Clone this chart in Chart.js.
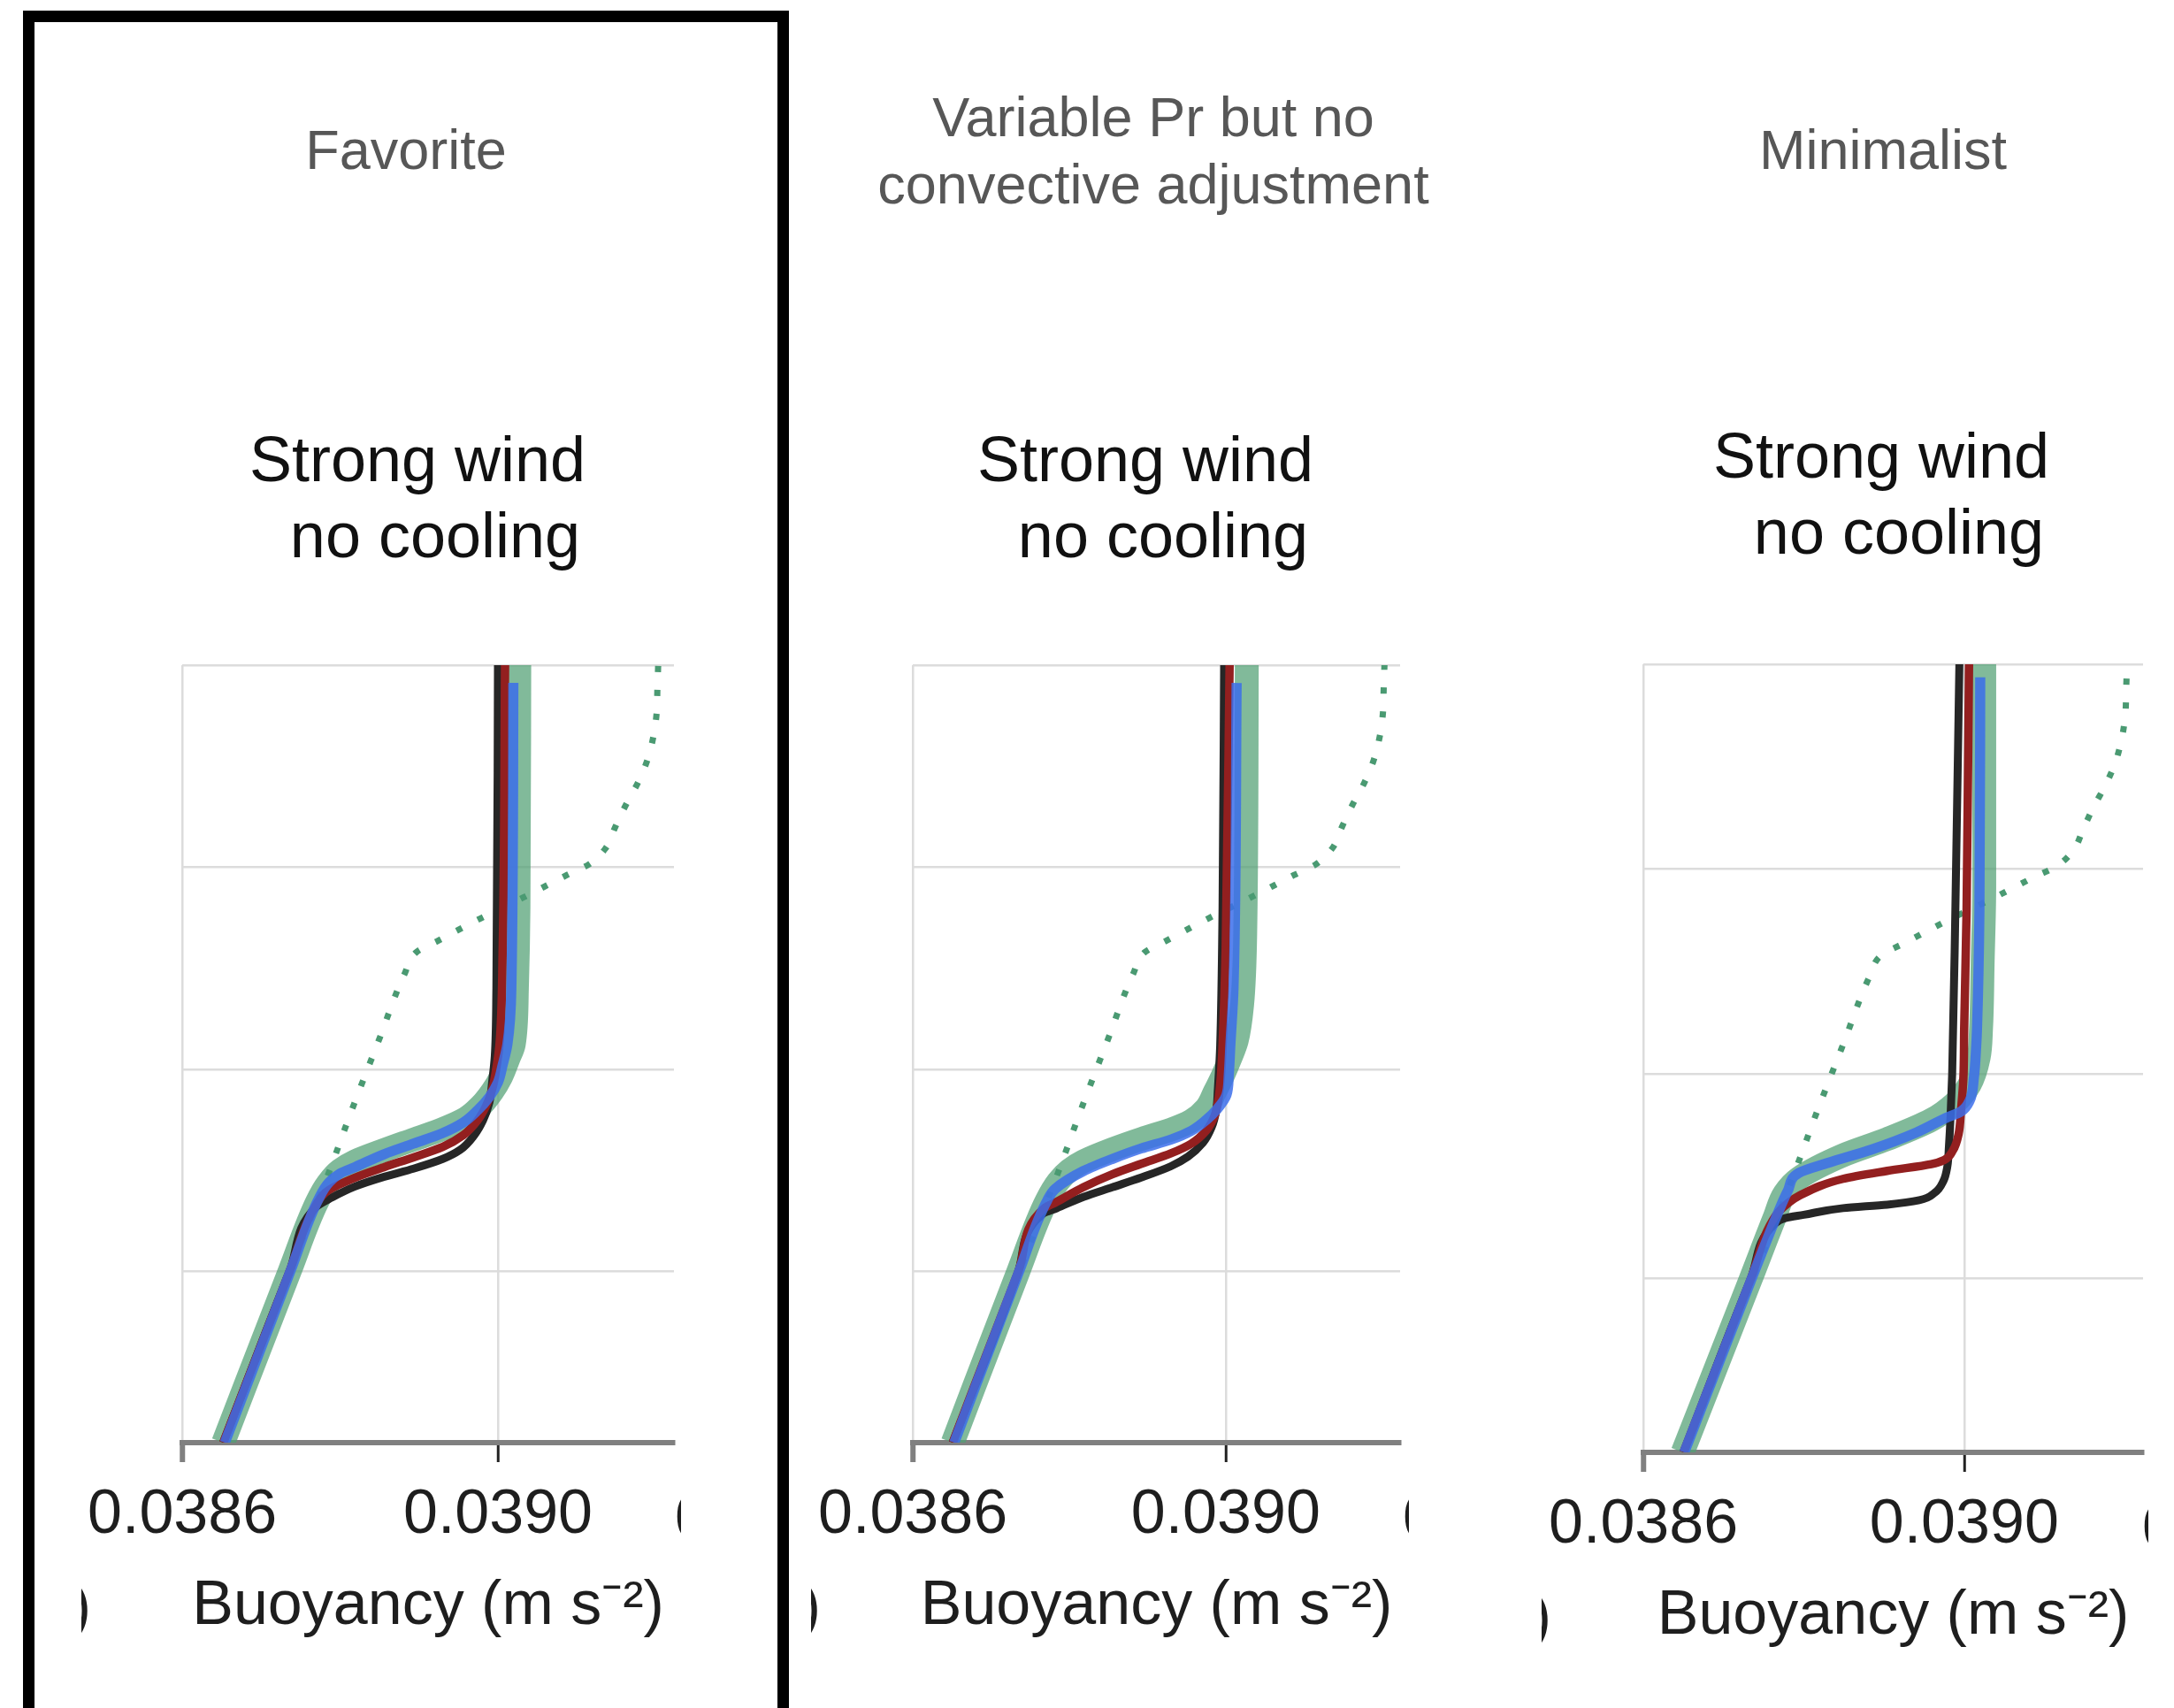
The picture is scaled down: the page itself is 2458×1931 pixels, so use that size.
<!DOCTYPE html>
<html>
<head>
<meta charset="utf-8">
<script src="https://cdn.jsdelivr.net/npm/chart.js@4.4.1/dist/chart.umd.min.js"></script>
<style>
  html, body { margin: 0; padding: 0; background: #fff; }
  body { width: 2458px; height: 1931px; position: relative; overflow: hidden; font-family: "Liberation Sans", Arial, sans-serif; }
  .frame { position: absolute; left: 26px; top: 12px; width: 866px; height: 2000px; border: 13px solid #000; box-sizing: border-box; }
  .head { position: absolute; width: 800px; text-align: center; font-size: 63px; line-height: 76px; color: #575757; }
  .sub { position: absolute; width: 600px; text-align: center; font-size: 72px; line-height: 86px; color: #111; }
  .sub span { position: relative; left: 20px; }
  .clip { position: absolute; overflow: hidden; font-size: 70px; line-height: 90px; color: #1e1e1e; }
  .clip div { position: absolute; top: 0; white-space: nowrap; }
  canvas { position: absolute; }
</style>
</head>
<body>
<div class="frame"></div>
<div class="head" style="left:59px;top:131px">Favorite</div>
<div class="head" style="left:904px;top:94px">Variable Pr but no<br>convective adjustment</div>
<div class="head" style="left:1729px;top:131px">Minimalist</div>

<div class="sub" style="left:172px;top:476px">Strong wind<br><span>no cooling</span></div>
<div class="sub" style="left:995px;top:476px">Strong wind<br><span>no cooling</span></div>
<div class="sub" style="left:1827px;top:472px">Strong wind<br><span>no cooling</span></div>

<!-- cut-off labels of the neighbouring subplots -->
<div class="clip" style="left:763px;top:1670px;width:7px;height:90px"><div style="left:0">0.0386</div></div>
<div class="clip" style="left:92px;top:1770px;width:8px;height:90px"><div style="right:-3px">)</div></div>
<div class="clip" style="left:1586px;top:1670px;width:7px;height:90px"><div style="left:0">0.0386</div></div>
<div class="clip" style="left:917px;top:1770px;width:8px;height:90px"><div style="right:-3px">)</div></div>
<div class="clip" style="left:2422px;top:1681px;width:7px;height:90px"><div style="left:0">0.0386</div></div>
<div class="clip" style="left:1743px;top:1781px;width:8px;height:90px"><div style="right:-3px">)</div></div>

<canvas id="favChart" width="760" height="1169" style="left:80px;top:700px"></canvas>
<canvas id="varPrChart" width="756" height="1169" style="left:906px;top:700px"></canvas>
<canvas id="minChart" width="768" height="1180" style="left:1732px;top:700px"></canvas>
<script>
// axis settings
const bTicks = [0.0386, 0.0390];
const depthTicks = [-75, -50, -25, 0];
const bRange = [0.0386, 0.039223];
const depthRange = [-96.2, 0];

// [buoyancy, depth] pairs
const initialProfile = [[0.038652,-96.2],[0.038736,-75.0],[0.038784,-63.23],[0.038816,-54.74],[0.038849,-46.43],[0.038882,-38.13],[0.038897,-35.49],[0.038924,-34.10],[0.038978,-31.33],[0.039032,-28.75],[0.039087,-25.99],[0.039115,-24.66],[0.039136,-22.71],[0.039149,-19.95],[0.039162,-17.30],[0.039177,-14.60],[0.039189,-11.83],[0.039197,-8.81],[0.039201,-5.98],[0.039202,-2.96],[0.039203,0]];

// Favorite
const favGreen = [[0.038652,-96.2],[0.038736,-75.0],[0.038771,-66.4],[0.038784,-64.2],[0.038800,-62.5],[0.038819,-61.4],[0.038856,-60.0],[0.038893,-58.7],[0.038930,-57.4],[0.038959,-56.10],[0.038978,-54.54],[0.038993,-52.72],[0.039004,-50.91],[0.039013,-48.73],[0.039020,-46.92],[0.039024,-40.0],[0.039026,-30.0],[0.039027,0]];
const favBlack = [[0.038652,-96.2],[0.038736,-75.0],[0.038770,-67.0],[0.038789,-65.9],[0.038819,-64.5],[0.038856,-63.3],[0.038893,-62.3],[0.038930,-61.1],[0.038952,-59.98],[0.038970,-58.16],[0.038981,-56.35],[0.038989,-54.17],[0.038993,-51.27],[0.038996,-48.37],[0.038998,-40.0],[0.039000,0]];
const favRed = [[0.038652,-96.2],[0.038736,-75.0],[0.038770,-66.7],[0.038785,-65.0],[0.038819,-63.4],[0.038856,-62.1],[0.038893,-60.9],[0.038930,-59.61],[0.038956,-58.16],[0.038974,-56.35],[0.038985,-54.53],[0.038993,-52.36],[0.038998,-49.82],[0.039002,-46.92],[0.039006,-35.0],[0.039009,0]];
const favBlue = [[0.038654,-96.2],[0.038737,-75.0],[0.038773,-66.0],[0.038786,-64.0],[0.038800,-62.9],[0.038819,-62.1],[0.038856,-60.5],[0.038893,-59.2],[0.038930,-57.9],[0.038956,-56.6],[0.038974,-55.1],[0.038989,-53.45],[0.039000,-51.63],[0.039006,-49.46],[0.039012,-46.9],[0.039017,-40.0],[0.0390195,-2.2]];

// Variable Pr but no convective adjustment
const varGreen = [[0.038651,-96.2],[0.038735,-75.0],[0.038771,-66.3],[0.038786,-63.9],[0.038800,-62.5],[0.038818,-61.4],[0.038855,-59.9],[0.038893,-58.6],[0.038930,-57.47],[0.038956,-56.39],[0.038975,-54.83],[0.038986,-52.83],[0.038997,-50.65],[0.039006,-48.6],[0.039014,-46.5],[0.039021,-42.0],[0.039025,-33.0],[0.039027,0]];
const varBlack = [[0.038651,-96.2],[0.038735,-75.0],[0.038766,-67.9],[0.038784,-67.2],[0.038818,-65.8],[0.038855,-64.6],[0.038892,-63.4],[0.038930,-62.0],[0.038952,-60.8],[0.038971,-59.1],[0.038982,-57.2],[0.038988,-55.01],[0.038990,-52.47],[0.038992,-49.20],[0.038993,-47.03],[0.038996,-30.0],[0.038998,0]];
const varRed = [[0.038651,-96.2],[0.038735,-75.0],[0.038768,-67.2],[0.038784,-66.4],[0.038818,-64.6],[0.038855,-63.0],[0.038892,-61.7],[0.038930,-60.4],[0.038956,-59.2],[0.038975,-57.6],[0.038986,-55.73],[0.038991,-53.56],[0.038994,-50.65],[0.038996,-47.03],[0.039000,-35.0],[0.039005,0]];
const varBlue = [[0.038653,-96.2],[0.038736,-75.0],[0.038772,-66.2],[0.038782,-64.8],[0.038818,-62.6],[0.038855,-61.1],[0.038892,-59.8],[0.038930,-58.71],[0.038956,-57.62],[0.038975,-56.28],[0.038990,-54.83],[0.039001,-53.19],[0.039004,-50.65],[0.039006,-47.03],[0.039010,-40.0],[0.039014,-2.2]];

// Minimalist
const minGreen = [[0.038649,-96.2],[0.038734,-75.0],[0.038764,-67.44],[0.038776,-64.6],[0.038794,-62.73],[0.038849,-59.94],[0.038904,-57.96],[0.038959,-55.63],[0.038988,-53.59],[0.039007,-51.26],[0.039018,-48.03],[0.039021,-44.44],[0.039023,-36.5],[0.039025,-27.0],[0.039025,0]];
const minBlack = [[0.038650,-96.2],[0.038734,-75.0],[0.038763,-68.4],[0.038777,-67.6],[0.038800,-67.2],[0.038849,-66.39],[0.038904,-65.96],[0.038944,-65.42],[0.038963,-64.53],[0.038974,-63.09],[0.038979,-61.30],[0.038981,-58.79],[0.038983,-55.20],[0.038985,-50.0],[0.038989,-30.0],[0.038994,0]];
const minRed = [[0.038650,-96.2],[0.038734,-75.0],[0.038765,-67.3],[0.038780,-65.8],[0.038794,-64.89],[0.038849,-62.81],[0.038904,-61.84],[0.038959,-61.01],[0.038975,-60.51],[0.038986,-59.33],[0.038993,-57.35],[0.038996,-54.48],[0.038999,-50.54],[0.039000,-44.44],[0.039003,-30.0],[0.039006,0]];
const minBlue = [[0.038651,-96.2],[0.038735,-75.0],[0.038766,-67.4],[0.038780,-64.3],[0.038794,-62.09],[0.038830,-60.87],[0.038885,-59.22],[0.038940,-57.17],[0.038977,-55.38],[0.038996,-54.59],[0.039007,-53.23],[0.039012,-50.54],[0.039015,-46.59],[0.039016,-44.44],[0.039019,-30.0],[0.039020,-1.6]];

const FONT = '"Liberation Sans", Arial, sans-serif';

function toPoints(pairs) {
    return pairs.map(p => ({ x: p[0], y: p[1] }));
}

function buildChart(id, curves, pad) {
    const ctx = document.getElementById(id).getContext('2d');
    // first dataset is drawn on top
    return new Chart(ctx, {
        type: 'line',
        data: {
            datasets: [
                { label: 'blue', data: toPoints(curves.blue), borderColor: 'rgba(60,110,235,0.85)', borderWidth: 11.5, clip: 0 },
                { label: 'red', data: toPoints(curves.red), borderColor: '#931f1f', borderWidth: 9.5, clip: 0 },
                { label: 'black', data: toPoints(curves.black), borderColor: '#262626', borderWidth: 9, clip: 0 },
                { label: 'initial', data: toPoints(initialProfile), borderColor: '#4a9a72', borderWidth: 7, borderDash: [7, 20], clip: 0 },
                { label: 'LES', data: toPoints(curves.green), borderColor: 'rgba(80,160,115,0.72)', borderWidth: 27, clip: 0 }
            ]
        },
        options: {
            indexAxis: 'y',
            responsive: false,
            animation: false,
            devicePixelRatio: 1,
            layout: { padding: { left: pad.left, right: pad.right, top: pad.top, bottom: 10 } },
            elements: {
                point: { radius: 0 },
                line: { cubicInterpolationMode: 'monotone', borderCapStyle: 'butt', borderJoinStyle: 'round', fill: false }
            },
            plugins: {
                legend: { display: false },
                tooltip: { enabled: false }
            },
            scales: {
                x: {
                    type: 'linear',
                    position: 'bottom',
                    min: bRange[0],
                    max: bRange[1],
                    afterBuildTicks: scale => { scale.ticks = bTicks.map(v => ({ value: v })); },
                    grid: {
                        color: '#dcdcdc',
                        lineWidth: 2.5,
                        drawTicks: true,
                        tickLength: 22,
                        tickColor: c => c.index === 0 ? '#808080' : '#222',
                        tickWidth: c => c.index === 0 ? 6 : 3
                    },
                    border: { display: true, color: '#808080', width: 6 },
                    ticks: { color: '#1e1e1e', font: { size: 70, family: FONT }, padding: 19, maxRotation: 0, callback: v => v.toFixed(4) },
                    title: { display: true, text: 'Buoyancy (m s⁻²)', color: '#1e1e1e', font: { size: 70, family: FONT }, padding: { top: 0, bottom: 0 } }
                },
                y: {
                    type: 'linear',
                    position: 'left',
                    min: depthRange[0],
                    max: depthRange[1],
                    afterBuildTicks: scale => { scale.ticks = depthTicks.map(v => ({ value: v })); },
                    grid: { color: '#dcdcdc', lineWidth: 2.5, drawTicks: false },
                    border: { display: false },
                    ticks: { display: false }
                }
            }
        }
    });
}

buildChart('favChart', { green: favGreen, black: favBlack, red: favRed, blue: favBlue }, { left: 112, right: 78, top: 52 });
buildChart('varPrChart', { green: varGreen, black: varBlack, red: varRed, blue: varBlue }, { left: 112, right: 79, top: 52 });
buildChart('minChart', { green: minGreen, black: minBlack, red: minRed, blue: minBlue }, { left: 115, right: 77, top: 51 });
</script>
</body>
</html>
